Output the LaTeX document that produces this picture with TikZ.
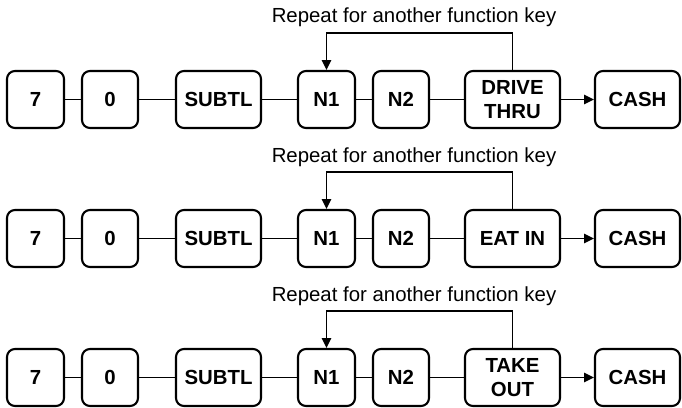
\documentclass[tikz,border=0pt]{standalone}
\usepackage{fontspec}
\setmainfont{Liberation Sans}
\usetikzlibrary{arrows.meta}

\begin{document}
\begin{tikzpicture}[
    x=0.025cm, y=-0.025cm,
    key/.style={
        rectangle,
        rounded corners=0.2cm,
        draw,
        line width=1.5pt,
        align=center,
        inner sep=0pt,
        minimum height=1.425cm,
        font=\fontsize{14.5}{16.5}\selectfont\bfseries
    },
    link/.style={line width=1.3pt},
    arrow/.style={-{Triangle[length=7pt,width=6.5pt]}, line width=1.3pt},
    note/.style={font=\fontsize{14.5}{17}\selectfont}
]

\useasboundingbox (0,0) rectangle (682,407);

\foreach \r/\y/\fkey in {1/99.5/{DRIVE\\THRU}, 2/238.5/{EAT IN}, 3/377.5/{TAKE\\OUT}} {
    % Keys of one sequence
    \node[key, minimum width=1.425cm] (seven\r) at (35.5,\y) {7};
    \node[key, minimum width=1.4cm] (zero\r) at (110,\y) {0};
    \node[key, minimum width=2.125cm] (subtl\r) at (218.5,\y) {SUBTL};
    \node[key, minimum width=1.425cm] (none\r) at (326.5,\y) {N1};
    \node[key, minimum width=1.4cm] (ntwo\r) at (401,\y) {N2};
    \node[key, minimum width=2.375cm] (func\r) at (512.5,\y) {\fkey};
    \node[key, minimum width=2.125cm] (cash\r) at (637.5,\y) {CASH};

    % Chain
    \draw[link] (seven\r) -- (zero\r) -- (subtl\r) -- (none\r) -- (ntwo\r) -- (func\r);
    \draw[arrow] (func\r) -- (cash\r);

    % Repeat loop
    \draw[arrow] (func\r.north) -- ++(0,-37) -| (none\r.north);
    \node[note, anchor=base] (note\r) at (414,\y-76.5) {Repeat for another function key};
}

\end{tikzpicture}
\end{document}
